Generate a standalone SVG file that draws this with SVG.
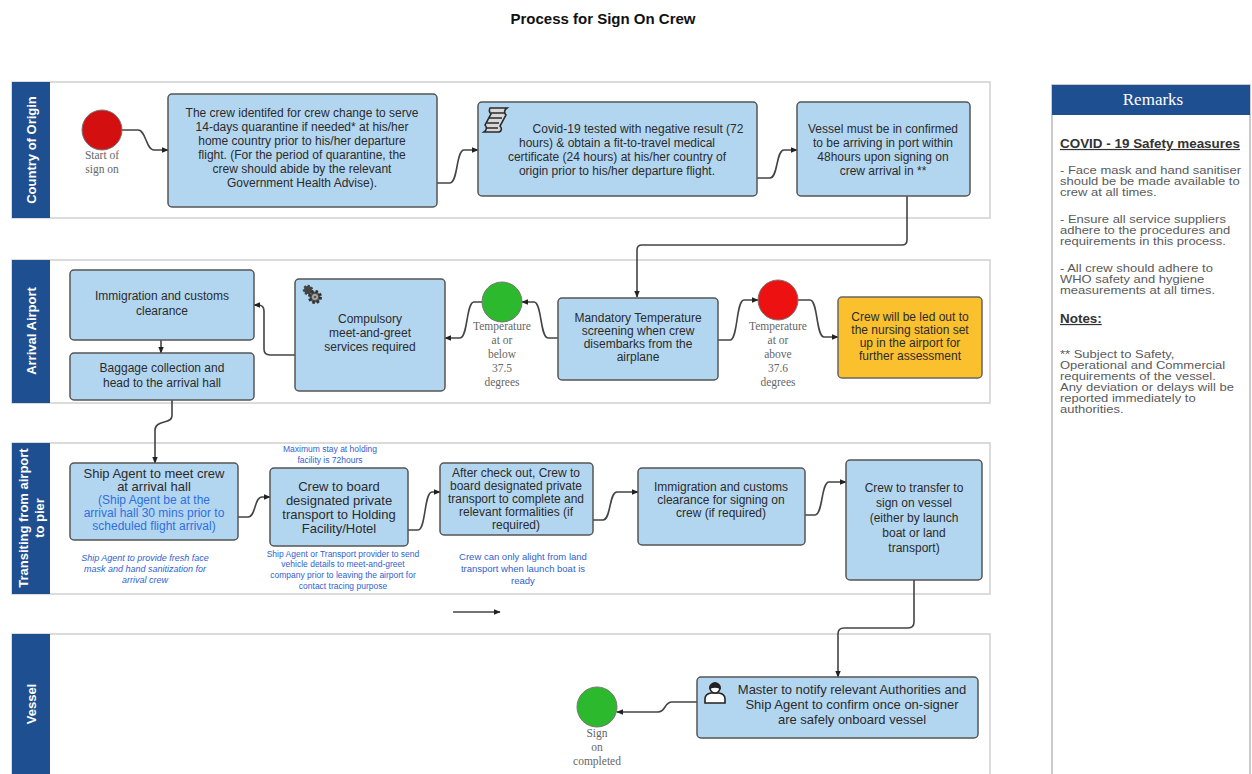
<svg xmlns="http://www.w3.org/2000/svg" width="1252" height="774" viewBox="0 0 1252 774">
<style>
.lane{fill:#fff;stroke:#d0d0d0;stroke-width:1.5}
.bar{fill:#1e4f91}
.lt{fill:#fff;font-family:"Liberation Sans",Arial,sans-serif;font-weight:bold;font-size:13px;text-anchor:middle}
.box{fill:#b3d6f0;stroke:#555;stroke-width:1.5}
.t{fill:#2b2b2b;font-family:"Liberation Sans",Arial,sans-serif;font-size:12px;text-anchor:middle}
.tm{fill:#2b2b2b;font-family:"Liberation Sans",Arial,sans-serif;font-size:13px;text-anchor:middle}
.tb{fill:#2b2b2b;font-family:"Liberation Sans",Arial,sans-serif;font-size:13px;text-anchor:middle}
.blue{fill:#2f6fe0;font-family:"Liberation Sans",Arial,sans-serif;font-size:12px;text-anchor:middle}
.note{fill:#2f5fd0;font-family:"Liberation Sans",Arial,sans-serif;font-size:8.5px;text-anchor:middle}
.note2{fill:#2f5fd0;font-family:"Liberation Sans",Arial,sans-serif;font-size:9.5px;text-anchor:middle}
.ital{font-style:italic;font-size:9px}
.ser{fill:#666;font-family:"Liberation Serif","Times New Roman",serif;font-size:11.5px;text-anchor:middle}
.con{fill:none;stroke:#444;stroke-width:1.6}
.rem{fill:#5a5a5a;font-family:"Liberation Sans",Arial,sans-serif;font-size:10px}
.remh{fill:#333;font-family:"Liberation Sans",Arial,sans-serif;font-size:12px;font-weight:bold;text-decoration:underline}
</style>
<defs>
<marker id="ah" viewBox="0 0 10 10" refX="9" refY="5" markerWidth="7" markerHeight="7" orient="auto" markerUnits="userSpaceOnUse">
<path d="M0,1 L10,5 L0,9 z" fill="#222"/>
</marker>
</defs>
<rect width="1252" height="774" fill="#fff"/>
<text x="603" y="24" font-family="Liberation Sans,Arial,sans-serif" font-weight="bold" font-size="15" text-anchor="middle" fill="#111">Process for Sign On Crew</text>

<g id="lanes">
<rect class="lane" x="12" y="82" width="978" height="136"/>
<rect class="bar" x="12" y="82" width="38" height="136"/>
<text class="lt" transform="translate(36,150) rotate(-90)">Country of Origin</text>
<rect class="lane" x="12" y="260" width="978" height="143"/>
<rect class="bar" x="12" y="260" width="38" height="143"/>
<text class="lt" transform="translate(36,331) rotate(-90)">Arrival Airport</text>
<rect class="lane" x="12" y="443" width="978" height="151"/>
<rect class="bar" x="12" y="443" width="38" height="151"/>
<text class="lt" transform="translate(28,518) rotate(-90)">Transiting from airport</text>
<text class="lt" transform="translate(44,518) rotate(-90)">to pier</text>
<rect class="lane" x="12" y="634" width="978" height="150"/>
<rect class="bar" x="12" y="634" width="38" height="150"/>
<text class="lt" transform="translate(36,704) rotate(-90)">Vessel</text>
</g>

<g id="connectors">
<path class="con" d="M122,130 H138 C146,130 146,150 154,150 H168" marker-end="url(#ah)"/>
<path class="con" d="M437,183 H450 C458,183 456,150 464,150 H478" marker-end="url(#ah)"/>
<path class="con" d="M757,178 H770 C778,178 776,150 784,150 H797" marker-end="url(#ah)"/>
<path class="con" d="M907,196 V240 Q907,245 902,245 H642 Q637,245 637,250 V297" marker-end="url(#ah)"/>
<path class="con" d="M558,338 H548 C540,338 542,302 534,302 H522" marker-end="url(#ah)"/>
<path class="con" d="M482,302 H474 C466,302 468,338 460,338 H445" marker-end="url(#ah)"/>
<path class="con" d="M295,355 H270 Q264,355 264,349 V311 Q264,305 258,305 H254" marker-end="url(#ah)"/>
<path class="con" d="M161,340 V353" marker-end="url(#ah)"/>
<path class="con" d="M172,400 V416 C172,424 155,420 155,430 V463" marker-end="url(#ah)"/>
<path class="con" d="M718,340 H730 C738,340 736,300 744,300 H758" marker-end="url(#ah)"/>
<path class="con" d="M798,300 H810 C818,300 816,337 824,337 H838" marker-end="url(#ah)"/>
<path class="con" d="M238,517 H248 C256,517 254,497 262,497 H270" marker-end="url(#ah)"/>
<path class="con" d="M408,530 H418 C426,530 424,492 432,492 H440" marker-end="url(#ah)"/>
<path class="con" d="M593,520 H603 C611,520 609,492 617,492 H638" marker-end="url(#ah)"/>
<path class="con" d="M805,515 H815 C823,515 821,482 829,482 H846" marker-end="url(#ah)"/>
<path class="con" d="M914,580 V622 Q914,628 908,628 H844 Q838,628 838,634 V677" marker-end="url(#ah)"/>
<path class="con" d="M697,702 H672 C664,702 666,712 658,712 H617" marker-end="url(#ah)"/>
<path class="con" d="M453,612 H500" marker-end="url(#ah)"/>
</g>

<g id="start">
<circle cx="102" cy="130" r="20" fill="#d40f0f" stroke="#777" stroke-width="1"/>
<text class="ser" x="102" y="159">Start of</text>
<text class="ser" x="102" y="173">sign on</text>
</g>

<g id="quarantine">
<rect class="box" x="168" y="94" width="269" height="113" rx="4"/>
<text class="t" x="302" y="117">The crew identifed for crew change to serve</text>
<text class="t" x="302" y="131">14-days quarantine if needed* at his/her</text>
<text class="t" x="302" y="145">home country prior to his/her departure</text>
<text class="t" x="302" y="159">flight. (For the period of quarantine, the</text>
<text class="t" x="302" y="173">crew should abide by the relevant</text>
<text class="t" x="302" y="187">Government Health Advise).</text>
</g>

<g id="covidtest">
<rect class="box" x="478" y="102" width="279" height="94" rx="4"/>
<g transform="translate(486,106)" stroke="#2a2a2a" stroke-width="1.6" fill="#d8d8d8">
<path d="M4,2 H21 C18,4 18,7 20,9 L14,20 C16,22 16,25 13,26 H-2 C1,24 1,21 -1,19 L5,8 C3,6 3,4 4,2 Z"/>
<path d="M5,7 H18 M3,12 H16 M1,17 H13 M0,22 H12" fill="none" stroke-width="1.4"/>
</g>
<text class="t" x="638" y="133">Covid-19 tested with negative result (72</text>
<text class="t" x="617" y="147">hours) &amp; obtain a fit-to-travel medical</text>
<text class="t" x="617" y="161">certificate (24 hours) at his/her country of</text>
<text class="t" x="617" y="175">origin prior to his/her departure flight.</text>
</g>

<g id="vesselconfirm">
<rect class="box" x="797" y="102" width="173" height="94" rx="4"/>
<text class="t" x="883" y="133">Vessel must be in confirmed</text>
<text class="t" x="883" y="147">to be arriving in port within</text>
<text class="t" x="883" y="161">48hours upon signing on</text>
<text class="t" x="883" y="175">crew arrival in  **</text>
</g>

<g id="immigration1">
<rect class="box" x="70" y="270" width="184" height="70" rx="4"/>
<text class="t" x="162" y="300">Immigration and customs</text>
<text class="t" x="162" y="315">clearance</text>
</g>

<g id="baggage">
<rect class="box" x="70" y="353" width="184" height="47" rx="4"/>
<text class="t" x="162" y="372">Baggage collection and</text>
<text class="t" x="162" y="387">head to the arrival hall</text>
</g>

<g id="meetgreet">
<rect class="box" x="295" y="279" width="150" height="112" rx="4"/>
<g transform="translate(308,290)">
<circle r="4" fill="#444" stroke="#444" stroke-width="2.5" stroke-dasharray="2 1.6"/>
</g>
<g transform="translate(315,297)">
<circle r="5.5" fill="#555" stroke="#333" stroke-width="3" stroke-dasharray="2.4 1.9"/>
<circle r="3" fill="#aaa"/>
<circle r="1.3" fill="#555"/>
</g>
<text class="t" x="370" y="323">Compulsory</text>
<text class="t" x="370" y="337">meet-and-greet</text>
<text class="t" x="370" y="351">services required</text>
</g>

<g id="below">
<circle cx="502" cy="302" r="20" fill="#2db92d" stroke="#777" stroke-width="1"/>
<text class="ser" x="502" y="330">Temperature</text>
<text class="ser" x="502" y="344">at or</text>
<text class="ser" x="502" y="358">below</text>
<text class="ser" x="502" y="372">37.5</text>
<text class="ser" x="502" y="386">degrees</text>
</g>

<g id="screening">
<rect class="box" x="558" y="298" width="160" height="82" rx="4"/>
<text class="t" x="638" y="322">Mandatory Temperature</text>
<text class="t" x="638" y="335">screening when crew</text>
<text class="t" x="638" y="348">disembarks from the</text>
<text class="t" x="638" y="361">airplane</text>
</g>

<g id="above">
<circle cx="778" cy="300" r="20" fill="#ee1111" stroke="#777" stroke-width="1"/>
<text class="ser" x="778" y="330">Temperature</text>
<text class="ser" x="778" y="344">at or</text>
<text class="ser" x="778" y="358">above</text>
<text class="ser" x="778" y="372">37.6</text>
<text class="ser" x="778" y="386">degrees</text>
</g>

<g id="nursing">
<rect x="838" y="297" width="144" height="81" rx="4" fill="#fbc02d" stroke="#666" stroke-width="1.5"/>
<text class="t" x="910" y="321">Crew will be led out to</text>
<text class="t" x="910" y="334">the nursing station set</text>
<text class="t" x="910" y="347">up in the airport for</text>
<text class="t" x="910" y="360">further assessment</text>
</g>

<g id="shipagent">
<rect class="box" x="70" y="463" width="168" height="77" rx="4"/>
<text class="tb" x="154" y="478">Ship Agent to meet crew</text>
<text class="tb" x="154" y="491">at arrival hall</text>
<text class="blue" x="154" y="504">(Ship Agent be at the</text>
<text class="blue" x="154" y="517">arrival hall 30 mins prior to</text>
<text class="blue" x="154" y="530">scheduled flight arrival)</text>
<text class="note ital" x="145" y="561">Ship Agent to provide fresh face</text>
<text class="note ital" x="145" y="572">mask and hand sanitization for</text>
<text class="note ital" x="145" y="583">arrival crew</text>
</g>

<g id="holding">
<rect class="box" x="270" y="468" width="138" height="78" rx="4"/>
<text class="note" x="330" y="452">Maximum stay at holding</text>
<text class="note" x="330" y="463">facility is 72hours</text>
<text class="tb" x="339" y="491">Crew to board</text>
<text class="tb" x="339" y="505">designated private</text>
<text class="tb" x="339" y="519">transport to Holding</text>
<text class="tb" x="339" y="533">Facility/Hotel</text>
<text class="note" x="343" y="557">Ship Agent or Transport provider to send</text>
<text class="note" x="343" y="567">vehicle details to meet-and-greet</text>
<text class="note" x="343" y="578">company prior to leaving the airport for</text>
<text class="note" x="343" y="589">contact tracing purpose</text>
</g>

<g id="checkout">
<rect class="box" x="440" y="463" width="153" height="72" rx="4"/>
<text class="t" x="516" y="477">After check out, Crew to</text>
<text class="t" x="516" y="490">board designated private</text>
<text class="t" x="516" y="503">transport to complete and</text>
<text class="t" x="516" y="516">relevant formalities (if</text>
<text class="t" x="516" y="529">required)</text>
<text class="note2" x="523" y="560">Crew can only alight from land</text>
<text class="note2" x="523" y="572">transport when launch boat is</text>
<text class="note2" x="523" y="584">ready</text>
</g>

<g id="immigration2">
<rect class="box" x="638" y="468" width="167" height="77" rx="4"/>
<text class="t" x="721" y="491">Immigration and customs</text>
<text class="t" x="721" y="504">clearance for signing on</text>
<text class="t" x="721" y="517">crew (if required)</text>
</g>

<g id="transfer">
<rect class="box" x="846" y="460" width="136" height="120" rx="4"/>
<text class="t" x="914" y="492">Crew to transfer to</text>
<text class="t" x="914" y="507">sign on vessel</text>
<text class="t" x="914" y="522">(either by launch</text>
<text class="t" x="914" y="537">boat or land</text>
<text class="t" x="914" y="552">transport)</text>
</g>

<g id="master">
<rect class="box" x="697" y="677" width="281" height="61" rx="4"/>
<g transform="translate(715,692)" stroke="#222" stroke-width="1.6">
<path d="M-10,11 V7 Q-10,2 -4,1 H4 Q10,2 10,7 V11 Z" fill="#fff"/>
<circle cx="0" cy="-4" r="5" fill="#fff"/>
<path d="M-5,-4 A5,5 0 0 1 5,-4 Q0,-6 -5,-4 Z" fill="#222"/>
</g>
<text class="tm" x="852" y="694">Master to notify relevant Authorities and</text>
<text class="tm" x="852" y="709">Ship Agent to confirm once on-signer</text>
<text class="tm" x="852" y="724">are safely onboard vessel</text>
</g>

<g id="end">
<circle cx="597" cy="707" r="20" fill="#2db92d" stroke="#777" stroke-width="1"/>
<text class="ser" x="597" y="737">Sign</text>
<text class="ser" x="597" y="751">on</text>
<text class="ser" x="597" y="765">completed</text>
</g>

<g id="remarks">
<rect x="1052" y="85" width="198" height="700" fill="#fff" stroke="#bbb" stroke-width="1.5"/>
<rect x="1052" y="85" width="198" height="30" fill="#1e4f91"/>
<text x="1153" y="105" font-family="Liberation Serif,Times New Roman,serif" font-size="17" fill="#fff" text-anchor="middle">Remarks</text>
<g transform="translate(1060,0) scale(1.12,1)">
<text class="remh" x="0" y="148">COVID - 19 Safety measures</text>
<text class="remh" x="0" y="323">Notes:</text>
</g>
<g transform="translate(1060,0) scale(1.3,1)">
<text class="rem" x="0" y="174">- Face mask and hand sanitiser</text>
<text class="rem" x="0" y="185">should be be made available to</text>
<text class="rem" x="0" y="196">crew at all times.</text>
<text class="rem" x="0" y="223">- Ensure all service suppliers</text>
<text class="rem" x="0" y="234">adhere to the procedures and</text>
<text class="rem" x="0" y="245">requirements in this process.</text>
<text class="rem" x="0" y="272">- All crew should adhere to</text>
<text class="rem" x="0" y="283">WHO safety and hygiene</text>
<text class="rem" x="0" y="294">measurements at all times.</text>
<text class="rem" x="0" y="358">** Subject to Safety,</text>
<text class="rem" x="0" y="369">Operational and Commercial</text>
<text class="rem" x="0" y="380">requirements of the vessel.</text>
<text class="rem" x="0" y="391">Any deviation or delays will be</text>
<text class="rem" x="0" y="402">reported immediately to</text>
<text class="rem" x="0" y="413">authorities.</text>
</g>
</g>
</svg>
